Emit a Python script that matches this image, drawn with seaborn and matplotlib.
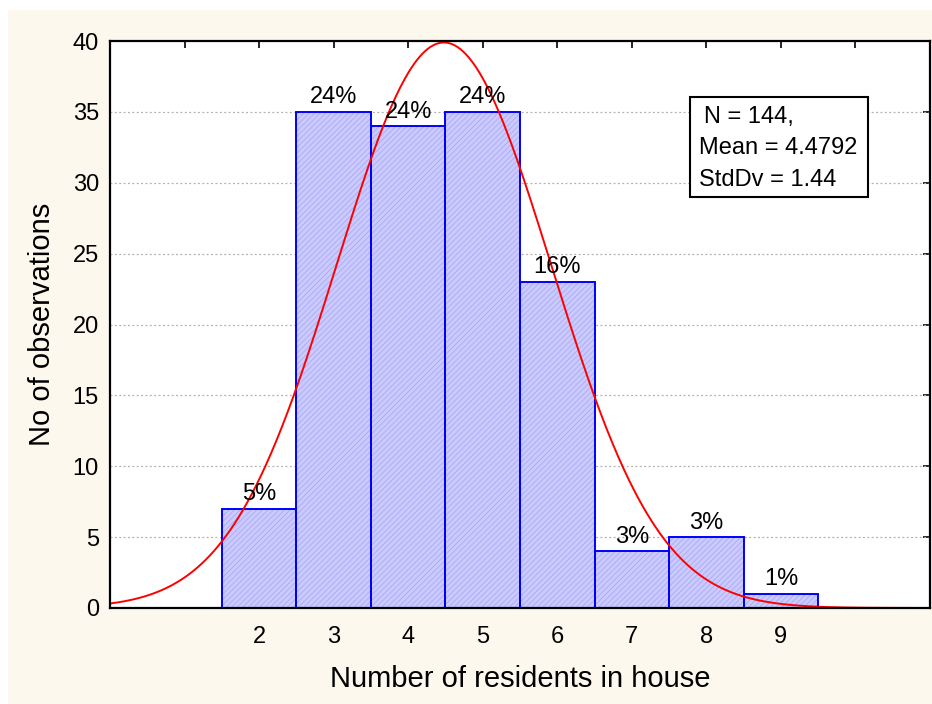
import numpy as np
import pandas as pd
import matplotlib
matplotlib.use("Agg")
import matplotlib.pyplot as plt
from matplotlib.patches import Rectangle
import seaborn as sns

# Histogram data: residents per house and how many houses had that count
residents = [2, 3, 4, 5, 6, 7, 8, 9]
counts = [7, 35, 34, 35, 23, 4, 5, 1]
pct_labels = ["5%", "24%", "24%", "24%", "16%", "3%", "3%", "1%"]

# Summary statistics shown in the box and used for the fitted normal curve
n_obs = 144
mean_val = 4.4792
std_val = 1.44
stats_lines = ["N = 144,", "Mean = 4.4792", "StdDv = 1.44"]

x_ticks = [1, 2, 3, 4, 5, 6, 7, 8, 9, 10]
x_ticklabels = ["", "2", "3", "4", "5", "6", "7", "8", "9", ""]
y_ticks = [0, 5, 10, 15, 20, 25, 30, 35, 40]

sns.set_theme(style="white")
plt.rcParams["font.family"] = ["Liberation Sans", "DejaVu Sans"]
plt.rcParams["hatch.linewidth"] = 0.5

hatch_col = "#a4a4f0"
cream = "#fdf8ee"
fig = plt.figure(figsize=(9.32, 7.04), dpi=100, facecolor="white")
fig.patches.append(Rectangle((8 / 932, 0), 1, 1 - 10 / 704, transform=fig.transFigure,
                             facecolor=cream, edgecolor="none", zorder=-10))
ax = fig.add_axes([110 / 932, 1 - 608 / 704, 820 / 932, 567 / 704])
ax.set_facecolor("white")

df = pd.DataFrame({"residents": residents, "count": counts})
# Textured fill: the hatch takes the patch edge colour, so the fill layer
# gets a pale edge and the blue outlines are drawn as a separate layer.
sns.histplot(data=df, x="residents", weights="count", discrete=True, ax=ax,
             color="#cacaff", edgecolor=hatch_col, linewidth=0, alpha=1.0)
for p in ax.patches:
    p.set_hatch("//////")
    p.set_zorder(2)
n_fill = len(ax.patches)
sns.histplot(data=df, x="residents", weights="count", discrete=True, ax=ax,
             fill=False, color="#0000ff", linewidth=1.4)
for p in ax.patches[n_fill:]:
    p.set_zorder(3)

# Fitted normal curve scaled to counts (bin width 1)
xs = np.linspace(0, 11, 600)
ys = n_obs * np.exp(-0.5 * ((xs - mean_val) / std_val) ** 2) / (std_val * np.sqrt(2 * np.pi))
sns.lineplot(x=xs, y=ys, ax=ax, color="#ff0000", linewidth=1.4, zorder=4)

for xv, c, lab in zip(residents, counts, pct_labels):
    ax.text(xv, c + 0.25, lab, ha="center", va="bottom", fontsize=17, color="black", zorder=5)

ax.set_xlim(0, 11)
ax.set_ylim(0, 40)
ax.set_xticks(x_ticks)
ax.set_xticklabels(x_ticklabels)
ax.set_yticks(y_ticks)
ax.set_yticklabels([str(v) for v in y_ticks])
ax.tick_params(axis="both", direction="in", length=5, width=1.2, labelsize=17,
               top=True, right=True, colors="black", pad=8)
ax.tick_params(axis="x", pad=13)
for v in y_ticks[1:-1]:
    ax.axhline(v, color="#b0b0b0", linestyle=(0, (1.5, 2)), linewidth=0.9, zorder=1)
for s in ax.spines.values():
    s.set_color("black")
    s.set_linewidth(1.6)
    s.set_zorder(6)

ax.set_xlabel("Number of residents in house", fontsize=21, labelpad=12, color="black")
ax.set_ylabel("No of observations", fontsize=21, labelpad=12, color="black")

# Statistics box
ax.add_patch(Rectangle((0.707, 0.725), 0.217, 0.176, transform=ax.transAxes,
                       facecolor="white", edgecolor="black", linewidth=1.5, zorder=7))
for (xf, yf), line in zip([(0.724, 0.866), (0.718, 0.811), (0.718, 0.755)], stats_lines):
    ax.text(xf, yf, line, transform=ax.transAxes, ha="left", va="center",
            fontsize=17, color="black", zorder=8)

fig.savefig("out.png", dpi=100, facecolor=fig.get_facecolor())
